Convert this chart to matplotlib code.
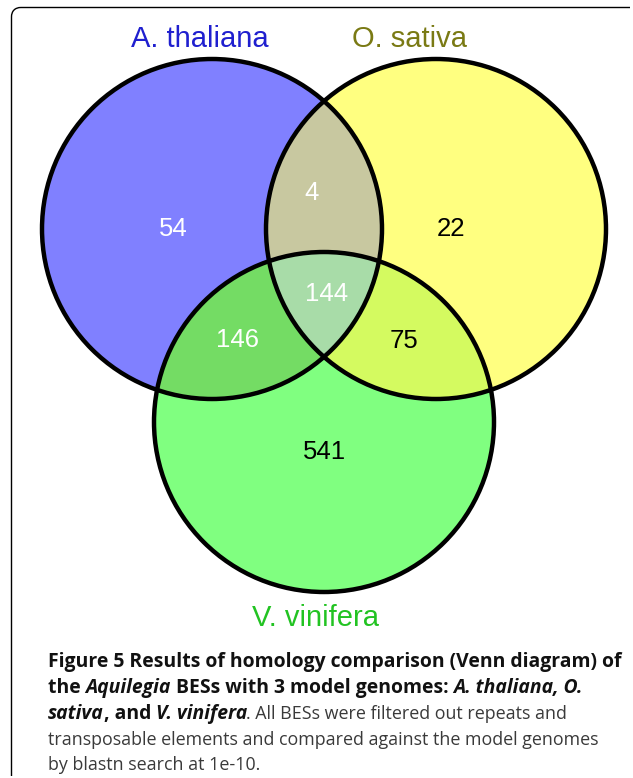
import numpy as np
import matplotlib
matplotlib.use("Agg")
import matplotlib.pyplot as plt
from matplotlib.patches import Circle, Polygon, PathPatch
from matplotlib.path import Path
from matplotlib.font_manager import FontProperties, findfont, get_font

# --- data -------------------------------------------------------------
set_names = ["A. thaliana", "O. sativa", "V. vinifera"]
set_label_colors = ["#1f1fcf", "#7a7a14", "#22c322"]
# region counts: A only, O only, V only, A&O, A&V, O&V, A&O&V
region_keys = ["A", "O", "V", "AO", "AV", "OV", "AOV"]
region_counts = [54, 22, 541, 4, 146, 75, 144]
region_text_colors = ["white", "black", "black", "white", "white", "black", "white"]

# --- geometry (pixel coords, y down) ---------------------------------
centers = {"A": (212, 229), "O": (436, 229), "V": (324, 422)}
radius = 170
fills = {"A": "#8080ff", "O": "#ffff80", "V": "#80ff80",
         "AO": "#c8c8a0", "AV": "#74dc64", "OV": "#d4fa60", "AOV": "#a8dca8"}
count_pos = {"A": (173, 229), "O": (451, 229), "V": (324, 452),
             "AO": (312, 193), "AV": (237, 340), "OV": (404, 341), "AOV": (327, 294)}
label_pos = [(200, 47), (409, 47), (315, 626)]

W, H = 633, 778
DPI = 100
fig = plt.figure(figsize=(W / DPI, H / DPI), dpi=DPI)
ax = fig.add_axes([0, 0, 1, 1])
ax.set_xlim(0, W)
ax.set_ylim(H, 0)
ax.axis("off")


def intersection_poly(keys, n=720):
    """Polygon of the intersection of several circles (convex)."""
    pts = []
    th = np.linspace(0, 2 * np.pi, n, endpoint=False)
    for k in keys:
        cx, cy = centers[k]
        p = np.c_[cx + radius * np.cos(th), cy + radius * np.sin(th)]
        ok = np.ones(len(p), bool)
        for o in keys:
            if o == k:
                continue
            ox, oy = centers[o]
            ok &= (p[:, 0] - ox) ** 2 + (p[:, 1] - oy) ** 2 <= radius ** 2 + 1e-6
        pts.append(p[ok])
    pts = np.vstack(pts)
    c = pts.mean(axis=0)
    order = np.argsort(np.arctan2(pts[:, 1] - c[1], pts[:, 0] - c[0]))
    return pts[order]


for k in ["A", "O", "V"]:
    ax.add_patch(Circle(centers[k], radius, facecolor=fills[k], edgecolor="none"))
for k in ["AO", "AV", "OV", "AOV"]:
    ax.add_patch(Polygon(intersection_poly(list(k)), closed=True,
                         facecolor=fills[k], edgecolor="none"))
for k in ["A", "O", "V"]:
    ax.add_patch(Circle(centers[k], radius, facecolor="none",
                        edgecolor="black", lw=3.2))

for key, n, col in zip(region_keys, region_counts, region_text_colors):
    x, y = count_pos[key]
    ax.text(x, y, str(n), ha="center", va="center", fontsize=18.5,
            family="Liberation Sans", color=col)

for name, col, (x, y) in zip(set_names, set_label_colors, label_pos):
    ax.text(x, y, name, ha="center", va="baseline", fontsize=21,
            family="Liberation Sans", color=col)

# --- frame: top + left edge with rounded corner ------------------------
verts = [(11.5, 776), (11.5, 17), (11.5, 11), (15, 7.5), (21, 7.5), (630, 7.5)]
codes = [Path.MOVETO, Path.LINETO, Path.CURVE4, Path.CURVE4, Path.CURVE4, Path.LINETO]
ax.add_patch(PathPatch(Path(verts, codes), facecolor="none",
                       edgecolor="black", lw=1.0))

# --- caption (mixed bold / italic) -------------------------------------
# (text, weight, style, kern before piece in px)
caption_lines = [
    [("Figure 5 Results of homology comparison (Venn diagram) of", "bold", "normal", 0)],
    [("the ", "bold", "normal", 0), ("Aquilegia", "bold", "italic", 0),
     (" BESs with 3 model genomes: ", "bold", "normal", 0),
     ("A. thaliana, O.", "bold", "italic", 0)],
    [("sativa", "bold", "italic", 0), (", and ", "bold", "normal", 0),
     ("V. vinifera", "bold", "italic", 0),
     (". All BESs were filtered out repeats and", "normal", "normal", -3)],
    [("transposable elements and compared against the model genomes", "normal", "normal", 0)],
    [("by blastn search at 1e-10.", "normal", "normal", 0)],
]
cap_baselines = [667, 693, 719, 745, 770]
cap_x0 = 48


def advance(s, fp):
    """Pen advance of a string in pixels (sum of glyph advances)."""
    font = get_font(findfont(fp))
    font.set_size(fp.get_size_in_points(), DPI)
    return sum(font.load_char(ord(c)).linearHoriAdvance / 65536 for c in s)


# sizes chosen so line 1 (bold) ends near x=621 and line 4 (regular) near x=601
probe_b = FontProperties(family="Open Sans", weight="bold", size=10)
probe_r = FontProperties(family="Open Sans", weight="normal", size=10)
size_bold = 10 * (621 - cap_x0) / advance(caption_lines[0][0][0], probe_b)
size_reg = 10 * (601 - cap_x0) / advance(caption_lines[3][0][0], probe_r)

for pieces, yb in zip(caption_lines, cap_baselines):
    x = cap_x0
    for s, weight, style, kern in pieces:
        x += kern
        size = size_bold if weight == "bold" else size_reg
        fp = FontProperties(family="Open Sans", weight=weight, style=style, size=size)
        col = "#111111" if weight == "bold" else "#3a3a3a"
        ax.text(x, yb, s, fontproperties=fp, color=col, ha="left", va="baseline")
        x += advance(s, fp)

fig.savefig("out.png", dpi=DPI)
